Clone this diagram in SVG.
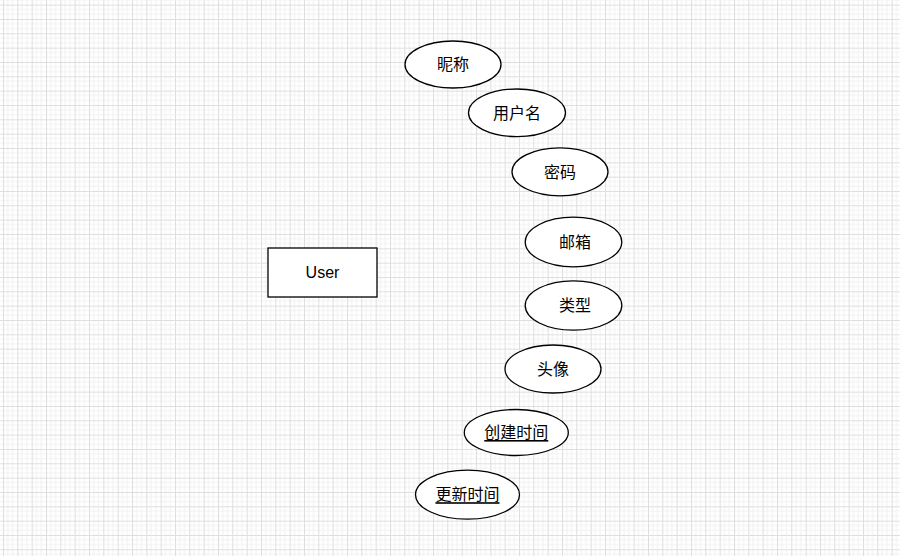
<svg xmlns="http://www.w3.org/2000/svg" width="900" height="556" viewBox="0 0 900 556">
  <style>
    .entity { fill: #ffffff; stroke: #000000; stroke-width: 1.3; }
    .attr { fill: #ffffff; stroke: #000000; stroke-width: 1.3; }
    .label { font-family: "Noto Sans CJK SC", "Liberation Sans", sans-serif; font-size: 16px; fill: #000000; text-anchor: middle; dominant-baseline: central; }
    .ename { font-family: "Liberation Sans", "Noto Sans", sans-serif; font-size: 16px; fill: #000000; text-anchor: middle; dominant-baseline: central; }
    .key { text-decoration: underline; }
  </style>
  <defs>
    <pattern id="grid" patternUnits="userSpaceOnUse" x="3" y="4.67" width="14.333" height="14.333">
      <rect width="14.333" height="14.333" fill="#ffffff"/>
      <path d="M4.78 0V14.333M9.56 0V14.333M0 4.78H14.333M0 9.56H14.333" stroke="#f1f1f1" stroke-width="1"/>
      <path d="M0.5 0V14.333M0 0.5H14.333" stroke="#dedede" stroke-width="1"/>
    </pattern>
  </defs>

  <rect width="900" height="556" fill="url(#grid)"/>

  <g id="connectors"></g>

  <g id="user">
    <rect class="entity" x="268" y="248" width="109" height="49"/>
    <text class="ename" x="322.5" y="272">User</text>
  </g>

  <g id="nickname">
    <ellipse class="attr" cx="453" cy="64.5" rx="48" ry="23.5"/>
    <text class="label" x="453" y="63">昵称</text>
  </g>

  <g id="username">
    <ellipse class="attr" cx="517" cy="112.8" rx="48.5" ry="23.8"/>
    <text class="label" x="517" y="111.5">用户名</text>
  </g>

  <g id="password">
    <ellipse class="attr" cx="560" cy="171.8" rx="48" ry="24"/>
    <text class="label" x="560" y="170.5">密码</text>
  </g>

  <g id="email">
    <ellipse class="attr" cx="573.5" cy="242" rx="48.3" ry="24.8"/>
    <text class="label" x="575" y="240.5">邮箱</text>
  </g>

  <g id="type">
    <ellipse class="attr" cx="573.5" cy="305.5" rx="48.3" ry="24.7"/>
    <text class="label" x="575" y="304">类型</text>
  </g>

  <g id="avatar">
    <ellipse class="attr" cx="553" cy="369" rx="48" ry="24"/>
    <text class="label" x="553" y="367.5">头像</text>
  </g>

  <g id="created-at">
    <ellipse class="attr" cx="516.3" cy="432.5" rx="52" ry="23"/>
    <text class="label key" x="516.3" y="431">创建时间</text>
  </g>

  <g id="updated-at">
    <ellipse class="attr" cx="467.5" cy="494.7" rx="52" ry="24.5"/>
    <text class="label key" x="467.5" y="493.2">更新时间</text>
  </g>
</svg>
